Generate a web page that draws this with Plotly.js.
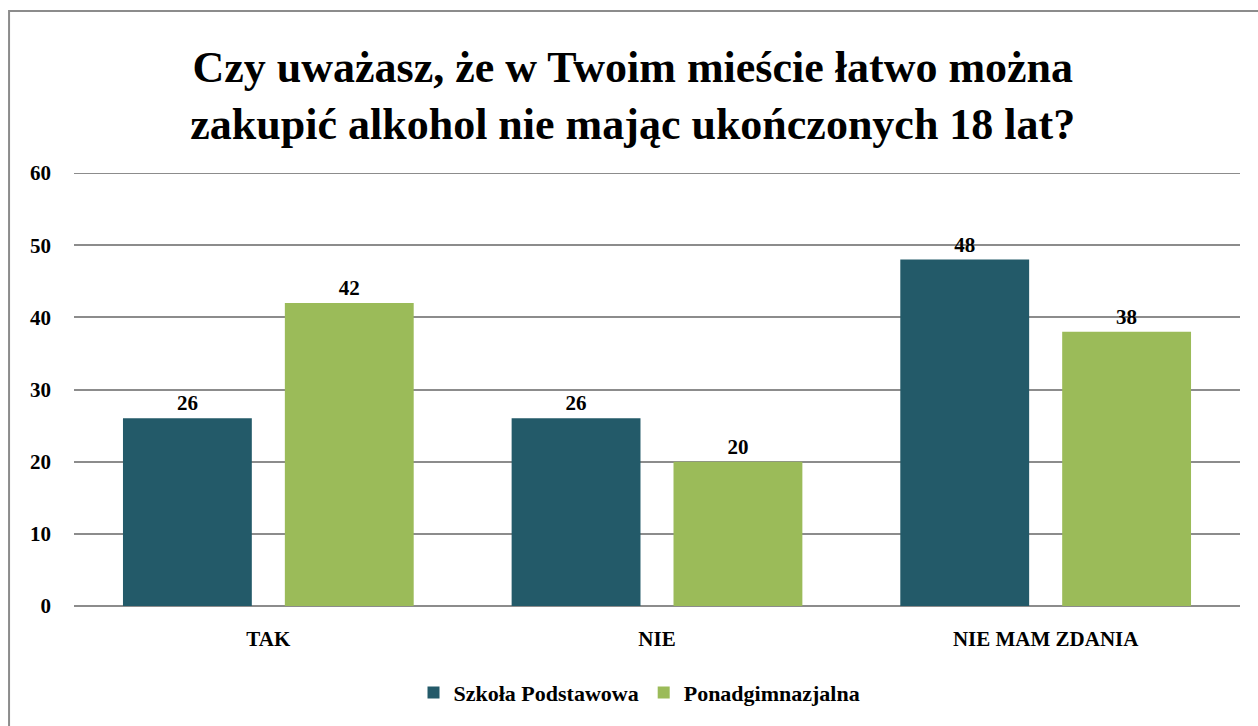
<!DOCTYPE html>
<html>
<head>
<meta charset="utf-8">
<script src="https://cdn.plot.ly/plotly-3.0.1.min.js"></script>
</head>
<body style="margin:0;padding:0;background:#fff;">
<div id="chart"></div>
<script>
const categories = ["TAK", "NIE", "NIE MAM ZDANIA"];
const seriesNames = ["Szkoła Podstawowa", "Ponadgimnazjalna"];
const szkolaPodstawowa = [26, 26, 48];
const ponadgimnazjalna = [42, 20, 38];
const colors = ["#235A69", "#9BBB59"];
const yMax = 60;
const titleText = "Czy uważasz, że w Twoim mieście łatwo można<br>zakupić alkohol nie mając ukończonych 18 lat?";

const serif = "Times New Roman";
const allValues = [szkolaPodstawowa, ponadgimnazjalna];
const traces = allValues.map((vals, i) => ({
  type: "bar",
  name: seriesNames[i],
  x: categories,
  y: vals,
  marker: {color: colors[i]},
  text: vals.map(String),
  textposition: "outside",
  textfont: {family: serif, size: 21, color: "#000", weight: "bold"}
}));

const layout = {
  width: 1258,
  height: 726,
  paper_bgcolor: "#fff",
  plot_bgcolor: "#fff",
  margin: {l: 74, r: 18, t: 173, b: 117},
  font: {family: serif, weight: "bold"},
  title: {
    text: titleText,
    font: {family: serif, size: 44, color: "#000", weight: "bold"},
    x: 0.503, xanchor: "center",
    y: 0.887, yanchor: "middle"
  },
  barmode: "group",
  bargap: 0.167,
  bargroupgap: 0.204,
  xaxis: {
    type: "category",
    showgrid: false,
    showline: false,
    ticks: "",
    ticklabelstandoff: 18,
    tickfont: {family: serif, size: 21, color: "#000", weight: "bold"}
  },
  yaxis: {
    range: [0, yMax + 6],
    dtick: 10,
    showgrid: true,
    gridcolor: "#8c8c8c",
    gridwidth: 2,
    zeroline: true,
    zerolinecolor: "#8c8c8c",
    zerolinewidth: 2,
    showline: false,
    ticks: "",
    ticklabelstandoff: 22,
    tickfont: {family: serif, size: 21, color: "#000", weight: "bold"}
  },
  shapes: [
    {type: "rect", xref: "paper", yref: "paper", x0: -0.0557, x1: 1.03, y0: -0.29, y1: 1.374,
     line: {color: "#8c8c8c", width: 2}, fillcolor: "rgba(0,0,0,0)", layer: "below"}
  ],
  showlegend: true,
  legend: {
    orientation: "h",
    x: 0.485, xanchor: "center",
    y: -0.2, yanchor: "middle",
    font: {family: serif, size: 22, color: "#000", weight: "bold"}
  }
};
// keep the plot area at the reference height while leaving headroom for the 60 gridline
layout.yaxis.range = [0, yMax];
layout.shapes.push({type: "line", xref: "paper", yref: "y", x0: 0, x1: 1, y0: yMax, y1: yMax,
  line: {color: "#8c8c8c", width: 2}});

Plotly.newPlot("chart", traces, layout, {displayModeBar: false});
</script>
</body>
</html>
